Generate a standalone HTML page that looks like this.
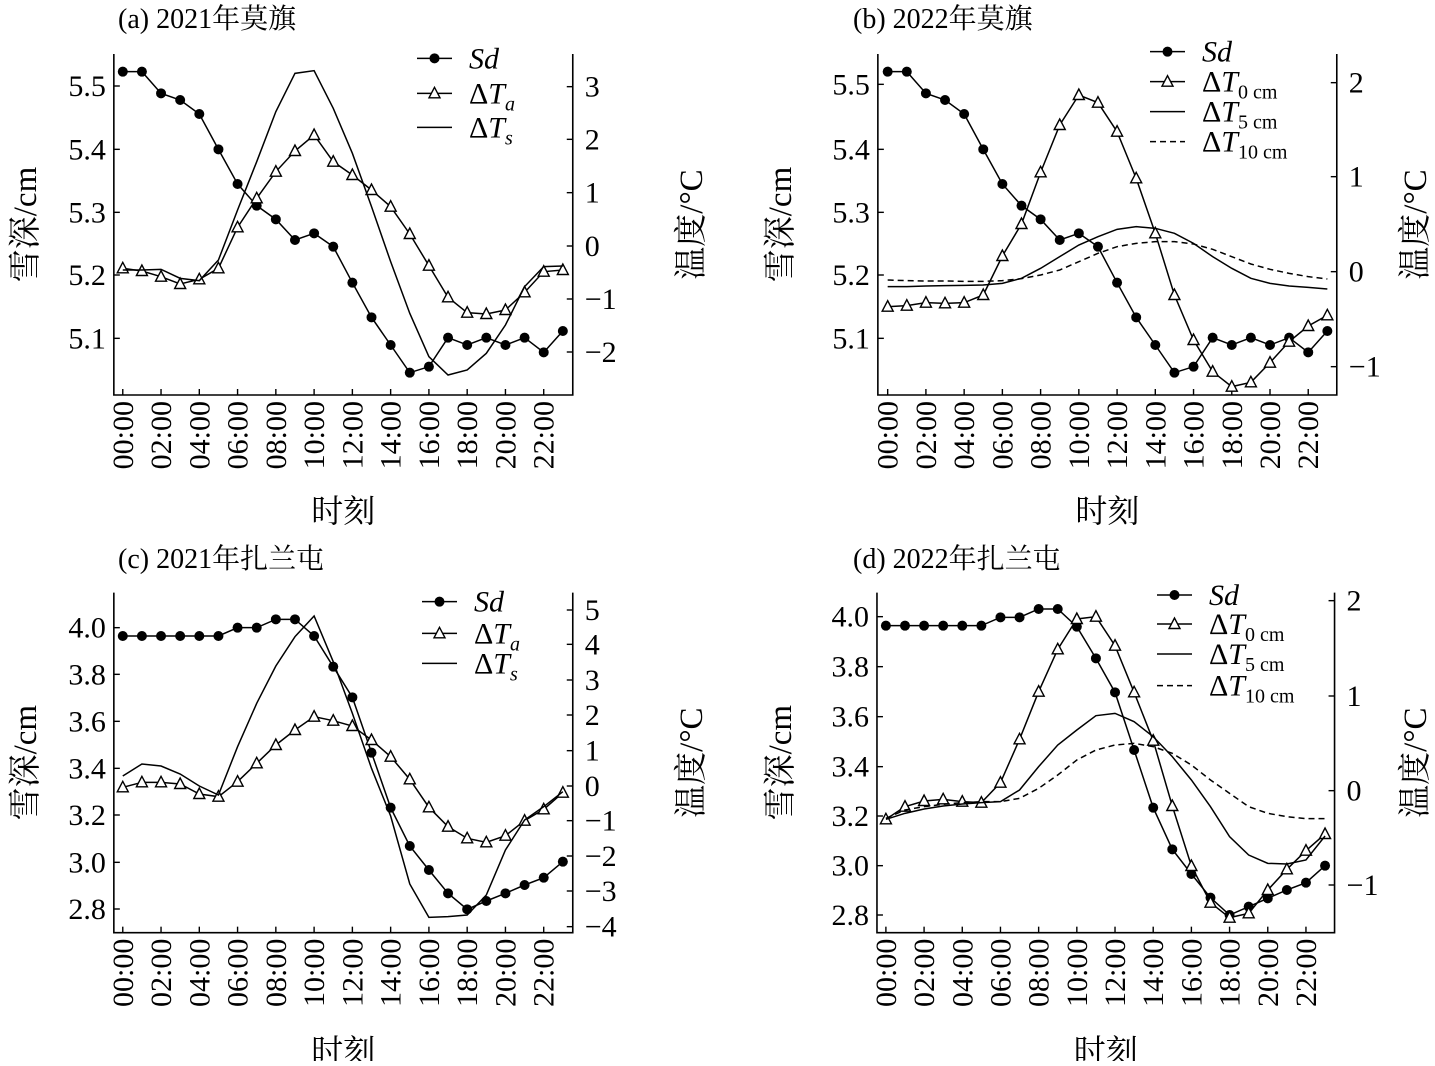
<!DOCTYPE html>
<html><head><meta charset="utf-8"><style>
html,body{margin:0;padding:0;background:#fff}
svg text{font-family:"Liberation Serif","Noto Serif CJK SC","Noto Sans CJK SC",serif;fill:#000}
</style></head><body>
<svg id="s" width="1435" height="1061" xmlns="http://www.w3.org/2000/svg"></svg>
<script>
const S=document.getElementById('s');let out='';
const K=2.24;
function panel(p){
 const X=z=>p.ox+z/K, Y=z=>p.oy+z/3;
 const hx=h=>X(p.x0+p.dx*h);
 const L=X(p.l),R=X(p.r),T=Y(p.t),B=Y(p.b);
 out+=`<path d="M${L} ${T}V${B}H${R}V${T}" fill="none" stroke="#000" stroke-width="1.6"/>`;
 out+=`<text x="${p.ox+118}" y="${p.oy-12}" font-size="28">${p.title}</text>`;
 for(let h=0;h<=22;h+=2){const x=hx(h);
  out+=`<line x1="${x}" y1="${B}" x2="${x}" y2="${B-6}" stroke="#000" stroke-width="1.4"/>`;
  out+=`<text transform="translate(${x+10},${B+6}) rotate(-90)" text-anchor="end" font-size="30">${String(h).padStart(2,'0')}:00</text>`;}
 for(const [v,z] of p.lt){const y=Y(z);
  out+=`<line x1="${L}" y1="${y}" x2="${L+6}" y2="${y}" stroke="#000" stroke-width="1.4"/>`;
  out+=`<text x="${L-8}" y="${y+10}" text-anchor="end" font-size="30">${v}</text>`;}
 for(const [v,z] of p.rt){const y=Y(z);
  out+=`<line x1="${R}" y1="${y}" x2="${R-6}" y2="${y}" stroke="#000" stroke-width="1.4"/>`;
  out+=`<text x="${R+12}" y="${y+10}" font-size="30">${v.replace('-','−')}</text>`;}
 const cy=(T+B)/2;
 out+=`<text transform="translate(${p.ylx},${cy}) rotate(-90)" text-anchor="middle" font-size="33">雪深/cm</text>`;
 out+=`<text transform="translate(${p.yrx},${cy}) rotate(-90)" text-anchor="middle" font-size="33">温度/°C</text>`;
 out+=`<text x="${(L+R)/2}" y="${p.oy+482}" text-anchor="middle" font-size="32">时刻</text>`;
 for(const s of p.series){
  const pts=s.d.map((z,h)=>[hx(h),Y(z)]);
  out+=`<polyline points="${pts.map(q=>q.join(',')).join(' ')}" fill="none" stroke="#000" stroke-width="1.5" ${s.dash?'stroke-dasharray="6,4"':''}/>`;
  for(const [x,y] of pts){
   if(s.m==='c')out+=`<circle cx="${x}" cy="${y}" r="5" fill="#000"/>`;
   if(s.m==='t')out+=`<polygon points="${x},${y-6} ${x-5.5},${y+4.5} ${x+5.5},${y+4.5}" fill="#fff" stroke="#000" stroke-width="1.4"/>`;
  }
 }
 p.leg.forEach((g,i)=>{const y=Y(g[0]);const x1=p.ox+p.lx,x2=x1+35;
  const s=p.series[i];
  out+=`<line x1="${x1}" y1="${y}" x2="${x2}" y2="${y}" stroke="#000" stroke-width="1.5" ${s.dash?'stroke-dasharray="6,4"':''}/>`;
  if(s.m==='c')out+=`<circle cx="${(x1+x2)/2}" cy="${y}" r="5" fill="#000"/>`;
  if(s.m==='t')out+=`<polygon points="${(x1+x2)/2},${y-6} ${(x1+x2)/2-5.5},${y+4.5} ${(x1+x2)/2+5.5},${y+4.5}" fill="#fff" stroke="#000" stroke-width="1.4"/>`;
  out+=`<text x="${x2+17}" y="${y+10}" font-size="30">${g[1]}</text>`;});
}
const sub=(s,it)=>`ΔT<tspan font-size="20" dy="7" ${it?'font-style="italic"':''}>${s}</tspan>`.replace('ΔT','Δ<tspan font-style="italic">T</tspan>');
const SdL='<tspan font-style="italic">Sd</tspan>';
const sdA=[95,95,160,180,222,328,432,497,538,600,580,620,728,832,915,998,980,893,915,893,915,893,937,873];
panel({ox:0,oy:40,title:'(a) 2021年莫旗',l:255,r:1283,t:42,b:1065,x0:275,dx:42.86,ylx:36,yrx:702,
 lt:[['5.5',138],['5.4',328],['5.3',517],['5.2',705],['5.1',895]],
 rt:[['3',140],['2',298],['1',458],['0',618],['-1',777],['-2',936]],
 series:[{m:'c',d:sdA},
 {m:'t',d:[685,693,710,732,718,685,562,475,395,333,285,365,405,450,500,582,677,772,818,822,810,757,695,690]},
 {d:[690,690,688,715,722,660,510,365,215,100,92,205,340,500,665,820,950,1005,990,940,855,740,680,678]}],
 lx:417,leg:[[55,SdL],[160,sub('a',true)],[262,sub('s',true)]]});
panel({ox:735,oy:40,title:'(b) 2022年莫旗',l:320,r:1348,t:42,b:1065,x0:342,dx:42.82,ylx:791,yrx:1426,
 lt:[['5.5',133],['5.4',328],['5.3',517],['5.2',705],['5.1',895]],
 rt:[['2',128],['1',410],['0',695],['-1',980]],
 series:[{m:'c',d:sdA},
 {m:'t',d:[800,797,788,790,788,765,648,552,397,255,165,188,275,415,580,765,900,995,1040,1027,968,905,858,826]},
 {d:[740,740,738,737,736,735,730,715,685,650,615,590,568,560,565,580,610,650,685,715,730,738,742,747]},
 {dash:1,d:[720,722,723,723,724,724,722,716,705,690,665,640,620,610,605,605,612,628,650,672,688,700,710,717]}],
 lx:415,leg:[[35,SdL],[125,sub('0 cm')],[215,sub('5 cm')],[305,sub('10 cm')]]});
panel({ox:0,oy:580,title:'(c) 2021年扎兰屯',l:255,r:1283,t:38,b:1058,x0:275,dx:42.86,ylx:36,yrx:702,
 lt:[['4.0',143],['3.8',283],['3.6',424],['3.4',565],['3.2',705],['3.0',847],['2.8',987]],
 rt:[['5',90],['4',193],['3',300],['2',405],['1',512],['0',618],['-1',722],['-2',828],['-3',933],['-4',1040]],
 series:[{m:'c',d:[168,168,168,168,168,168,143,143,118,118,168,260,352,518,683,798,870,940,988,963,940,915,893,845]},
 {m:'t',d:[622,607,607,612,642,650,605,550,495,450,410,422,438,480,530,598,682,740,775,787,767,722,688,638]},
 {d:[588,552,558,582,618,645,500,370,258,170,108,245,400,565,708,912,1012,1010,1005,945,810,720,680,635]}],
 lx:422,leg:[[65,SdL],[160,sub('a',true)],[250,sub('s',true)]]});
panel({ox:735,oy:580,title:'(d) 2022年扎兰屯',l:318,r:1343,t:38,b:1058,x0:338,dx:42.77,ylx:791,yrx:1426,
 lt:[['4.0',110],['3.8',260],['3.6',410],['3.4',560],['3.2',708],['3.0',857],['2.8',1005]],
 rt:[['2',62],['1',348],['0',632],['-1',915]],
 series:[{m:'c',d:[137,137,137,137,137,137,112,112,87,87,140,235,337,510,683,808,882,953,1005,980,955,930,908,857]},
 {m:'t',d:[718,680,663,658,665,668,608,478,335,208,117,110,197,337,482,678,858,968,1013,1000,930,868,812,762]},
 {d:[718,700,687,678,672,668,665,630,560,495,450,407,400,425,470,530,600,680,770,825,850,852,840,768]},
 {dash:1,d:[715,690,680,673,668,665,665,655,625,585,540,510,495,490,500,520,555,600,640,680,700,710,716,716]}],
 lx:422,leg:[[45,SdL],[132,sub('0 cm')],[222,sub('5 cm')],[317,sub('10 cm')]]});
S.innerHTML=out;
</script>
</body></html>
